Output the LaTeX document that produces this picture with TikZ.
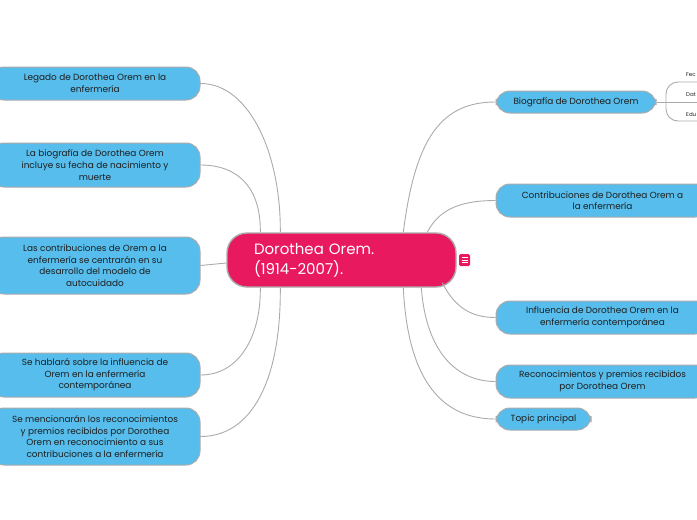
\documentclass[tikz,border=0pt]{standalone}
\usepackage{fontspec}
\setmainfont{Poppins}
\usetikzlibrary{positioning,calc}
\definecolor{mapBlue}{HTML}{56BDEC}
\definecolor{rootPink}{HTML}{E8195F}
\definecolor{edgeGray}{HTML}{ABABAB}
\definecolor{inkDark}{HTML}{1E1E1E}

\tikzset{
  branchLine/.style={draw=edgeGray, line width=0.9pt},
  leafBox/.style={draw=edgeGray, line width=1pt, fill=mapBlue, rounded corners=14pt,
    inner sep=0pt, align=center, text=inkDark, font=\fontsize{8.9}{11.6}\selectfont},
  rootBox/.style={draw=edgeGray, line width=1.4pt, fill=rootPink, rounded corners=20pt,
    inner xsep=27pt, inner ysep=0pt, text width=175pt, align=left, text=white,
    minimum height=54pt, font=\fontsize{15}{20}\selectfont},
  subText/.style={anchor=west, inner sep=0pt, text=inkDark, font=\fontsize{5.5}{6}\selectfont}
}

\begin{document}
\begin{tikzpicture}[x=1pt,y=-1pt]

% --- PARAMETERS ---
\def\lw{210pt}   % left box width
\def\rw{213pt}   % right box width

\useasboundingbox (0,0) rectangle (697,520);

% --- ROOT ---
\node[rootBox] (root) at (341.5,260) {Dorothea Orem.\\(1914-2007).};
\node[fill=rootPink, rounded corners=1.5pt, minimum width=11pt, minimum height=12pt,
  inner sep=0pt] (note) at (464.5,260) {};
\foreach \k in {-2.6,0,2.6}
  \draw[white, line width=0.8pt] ([xshift=-3pt, yshift=\k pt]note.center) -- ++(6,0);

% --- LEFT BRANCHES ---
\node[leafBox, minimum width=\lw, minimum height=33pt] (legado) at (95,83.5)
  {Legado de Dorothea Orem en la\\enfermería};
\node[leafBox, minimum width=\lw, minimum height=44pt] (bioFecha) at (95,165)
  {La biografía de Dorothea Orem\\incluye su fecha de nacimiento y\\muerte};
\node[leafBox, minimum width=\lw, minimum height=57pt] (modelo) at (95,265.5)
  {Las contribuciones de Orem a la\\enfermería se centrarán en su\\desarrollo del modelo de\\autocuidado};
\node[leafBox, minimum width=\lw, minimum height=44pt] (hablara) at (95,375)
  {Se hablará sobre la influencia de\\Orem en la enfermería\\contemporánea};
\node[leafBox, minimum width=\lw, minimum height=57pt] (premiosL) at (95,436.5)
  {Se mencionarán los reconocimientos\\y premios recibidos por Dorothea\\Orem en reconocimiento a sus\\contribuciones a la enfermería};

% --- RIGHT BRANCHES ---
\node[leafBox, minimum width=160pt, minimum height=22pt] (biog) at (576,102)
  {Biografía de Dorothea Orem};
\node[leafBox, minimum width=\rw, minimum height=33pt] (contrib) at (602.5,200.5)
  {Contribuciones de Dorothea Orem a\\la enfermería};
\node[leafBox, minimum width=\rw, minimum height=33pt] (influ) at (602.5,317.5)
  {Influencia de Dorothea Orem en la\\enfermería contemporánea};
\node[leafBox, minimum width=\rw, minimum height=33pt] (premios) at (602.5,381.5)
  {Reconocimientos y premios recibidos\\por Dorothea Orem};
\node[leafBox, minimum width=95pt, minimum height=22pt] (topic) at (543.5,419)
  {Topic principal};

% --- SUB TOPICS OF biog ---
\node[subText] (fec) at (686,75) {Fec};
\node[subText] (dat) at (686,94.5) {Dat};
\node[subText] (edu) at (686,114) {Edu};
\coordinate (fork) at (666,102);
\coordinate (fecEnd) at (700,82);
\coordinate (datEnd) at (700,102);
\coordinate (eduEnd) at (700,121);
\draw[branchLine] (biog.east) -- (datEnd);
\draw[branchLine, rounded corners=12pt] (fork) |- (fecEnd);
\draw[branchLine, rounded corners=12pt] (fork) |- (eduEnd);

% --- CONNECTORS ---
\coordinate (rtA) at ([xshift=34pt]root.north west);
\coordinate (rtB) at ([xshift=54pt]root.north west);
\coordinate (rtC) at ([xshift=177pt]root.north west);
\coordinate (rtD) at ([xshift=201pt]root.north west);
\coordinate (rbA) at ([xshift=34pt]root.south west);
\coordinate (rbB) at ([xshift=54pt]root.south west);
\coordinate (rbC) at ([xshift=177pt]root.south west);
\coordinate (rbD) at ([xshift=195pt]root.south west);
\coordinate (rbE) at ([xshift=216pt, yshift=5pt]root.south west);

\draw[branchLine] (legado.east) .. controls (250,83.5) and (281,155) .. (rtB);
\draw[branchLine] (bioFecha.east) .. controls (240,165) and (261,190) .. (rtA);
\draw[branchLine] (modelo.east) -- ([yshift=-3pt]root.west);
\draw[branchLine] (hablara.east) .. controls (240,375) and (261,335) .. (rbA);
\draw[branchLine] (premiosL.east) .. controls (252,436.5) and (281,380) .. (rbB);

\draw[branchLine] (rtC) .. controls (415,140) and (440,102) .. (biog.west);
\draw[branchLine] (rtD) .. controls (440,207) and (465,200.5) .. (contrib.west);
\draw[branchLine] (rbE) .. controls (455,308) and (472,317.5) .. (influ.west);
\draw[branchLine] (rbD) .. controls (426,350) and (455,381.5) .. (premios.west);
\draw[branchLine] (rbC) .. controls (408,385) and (445,419) .. (topic.west);

\end{tikzpicture}
\end{document}
